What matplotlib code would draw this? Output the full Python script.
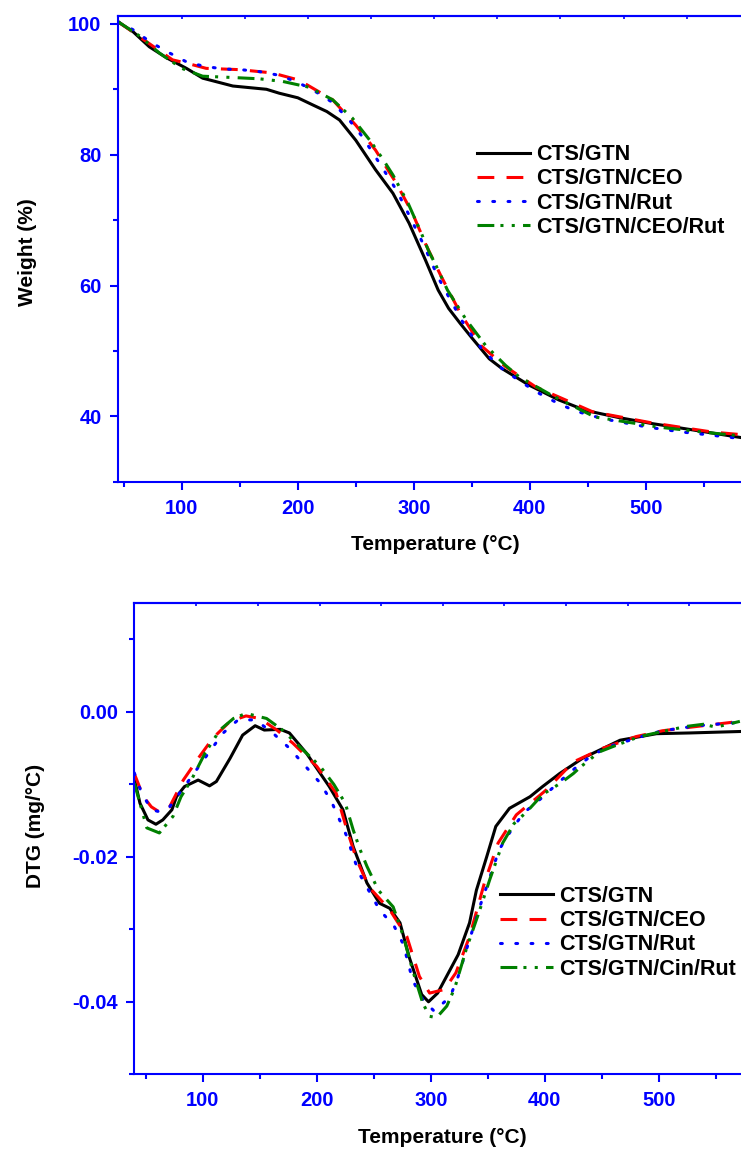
#!/usr/bin/env python3

import numpy as np
import matplotlib
matplotlib.use('Agg')
import matplotlib.pyplot as plt


plt.rcParams['font.family'] = ['Liberation Sans', 'DejaVu Sans']
plt.rcParams['font.weight'] = 'bold'
plt.rcParams['axes.unicode_minus'] = False

figname = 'out.png'

# TGA (weight %) curves
tga_gtn_t = [45, 58, 72, 87, 104, 118, 144, 173, 184, 200, 213, 225, 236, 250, 267, 282, 296, 310, 321, 330,
             340, 350, 365, 376, 399, 425, 448, 477, 505, 534, 582]
tga_gtn_w = [100.3, 98.8, 96.5, 94.8, 93.2, 91.7, 90.5, 90.0, 89.4, 88.7, 87.6, 86.6, 85.3, 82.2, 77.7, 74.1,
             69.5, 63.9, 59.3, 56.5, 54.2, 52.0, 48.8, 47.3, 44.8, 42.5, 40.9, 39.8, 38.9, 38.1, 36.75]

tga_ceo_t = [45, 67, 92, 104, 121, 150, 178, 201, 230, 250, 267, 285, 299, 310, 323, 340, 358, 379, 405, 454,
             505, 557, 582]
tga_ceo_w = [100.35, 97.6, 94.5, 94.0, 93.2, 93.0, 92.5, 91.4, 88.4, 84.5, 80.7, 75.6, 71.0, 66.4, 61.6, 55.8,
             50.8, 47.6, 44.5, 40.7, 39.0, 37.6, 37.2]

tga_rut_t = [45, 58, 74, 90, 105, 120, 136, 151, 167, 182, 197, 213, 229, 243, 255, 265, 275, 285, 293, 308,
             315, 322, 330, 345, 360, 376, 392, 407, 423, 438, 454, 470, 485, 500, 515, 531, 547, 562, 582]
tga_rut_w = [100.3, 99.1, 97.1, 95.5, 94.1, 93.5, 93.1, 93.0, 92.7, 92.2, 91.3, 89.9, 88.1, 85.6, 82.9, 80.2,
             77.4, 74.6, 71.8, 66.4, 63.6, 60.9, 58.3, 53.5, 50.0, 47.3, 45.3, 43.6, 42.1, 40.9, 40.05, 39.4,
             38.9, 38.4, 38.0, 37.6, 37.3, 37.0, 36.6]

tga_mix_t = [45, 64, 81, 100, 118, 144, 167, 187, 210, 230, 247, 263, 273, 282, 295, 306, 313, 319, 329, 345,
             362, 379, 391, 419, 456, 511, 554, 582]
tga_mix_w = [100.35, 98.1, 95.5, 93.2, 92.0, 91.8, 91.6, 91.2, 90.3, 88.4, 85.6, 82.0, 79.4, 76.9, 72.6, 68.2,
             65.2, 63.1, 59.3, 54.8, 50.8, 47.8, 46.0, 43.2, 39.9, 38.35, 37.5, 37.0]

# DTG curves
dtg_gtn_t = [40, 45, 52, 59, 65, 73, 77, 84, 96, 106, 112, 124, 135, 146, 154, 168, 176, 191, 211, 223, 232,
             244, 255, 264, 273, 281, 292, 298, 306, 324, 334, 340, 349, 357, 369, 387, 398, 413, 433, 466, 498,
             527, 571]
dtg_gtn_d = [-0.0092, -0.0126, -0.0149, -0.0155, -0.0149, -0.0135, -0.0117, -0.0103, -0.0094, -0.0102, -0.0096,
             -0.0064, -0.0032, -0.0019, -0.0025, -0.0024, -0.0029, -0.0057, -0.0103, -0.0135, -0.0186, -0.0236,
             -0.0264, -0.0271, -0.0291, -0.0338, -0.0390, -0.0400, -0.0388, -0.0335, -0.0291, -0.0246, -0.0200,
             -0.0158, -0.0133, -0.0117, -0.0103, -0.0085, -0.0064, -0.0039, -0.0030, -0.0029, -0.0027]

dtg_ceo_t = [40, 48, 55, 62, 71, 83, 97, 109, 124, 138, 150, 165, 179, 200, 217, 226, 235, 246, 264, 279, 290,
             299, 312, 322, 334, 347, 359, 375, 401, 425, 451, 480, 503, 528, 555, 571]
dtg_ceo_d = [-0.0085, -0.0117, -0.0131, -0.0138, -0.0131, -0.0094, -0.0062, -0.0036, -0.0013, -0.00055, -0.0009,
             -0.0025, -0.0043, -0.0075, -0.0112, -0.0160, -0.0204, -0.0242, -0.0273, -0.0310, -0.0365, -0.0388,
             -0.0383, -0.0360, -0.0310, -0.0236, -0.0181, -0.0142, -0.0108, -0.0069, -0.0050, -0.0034, -0.0026,
             -0.0021, -0.0016, -0.0013]

dtg_rut_t = [40, 46, 55, 63, 71, 83, 105, 118, 131, 146, 160, 176, 189, 203, 213, 220, 227, 232, 238, 255, 268,
             276, 284, 293, 303, 317, 324, 334, 344, 349, 360, 369, 381, 397, 413, 427, 442, 458, 489, 503, 534,
             566, 571]
dtg_rut_d = [-0.0084, -0.0110, -0.0135, -0.0138, -0.0131, -0.0105, -0.0057, -0.0029, -0.0011, -0.0011, -0.0027,
             -0.0050, -0.0073, -0.0098, -0.0124, -0.0149, -0.0174, -0.0200, -0.0225, -0.0273, -0.0296, -0.0321,
             -0.0370, -0.0397, -0.0413, -0.0393, -0.0365, -0.0314, -0.0264, -0.0241, -0.0190, -0.0167, -0.0140,
             -0.0119, -0.0096, -0.0077, -0.0059, -0.0047, -0.0032, -0.0026, -0.0019, -0.0015, -0.0014]

dtg_mix_t = [40, 45, 51, 62, 74, 81, 90, 102, 115, 127, 138, 156, 170, 185, 203, 215, 225, 232, 238, 244, 254,
             267, 276, 284, 293, 299, 305, 314, 321, 331, 343, 352, 363, 373, 384, 398, 414, 425, 432, 448, 461,
             483, 506, 524, 539, 550, 571]
dtg_mix_d = [-0.0098, -0.0126, -0.0160, -0.0167, -0.0144, -0.0117, -0.0094, -0.0057, -0.0025, -0.0009, -0.0002,
             -0.0009, -0.0025, -0.0048, -0.0075, -0.0100, -0.0126, -0.0163, -0.0190, -0.0213, -0.0246, -0.0269,
             -0.0310, -0.0356, -0.0402, -0.0420, -0.0422, -0.0406, -0.0381, -0.0328, -0.0273, -0.0230, -0.0181,
             -0.0154, -0.0138, -0.0114, -0.0098, -0.0085, -0.0075, -0.0055, -0.0047, -0.0034, -0.0026, -0.0020,
             -0.0017, -0.0021, -0.0013]

tga_labels = ['CTS/GTN', 'CTS/GTN/CEO', 'CTS/GTN/Rut', 'CTS/GTN/CEO/Rut']
dtg_labels = ['CTS/GTN', 'CTS/GTN/CEO', 'CTS/GTN/Rut', 'CTS/GTN/Cin/Rut']

AXIS_BLUE = '#0000ff'
LW = 2.2

# (color, dashes, capstyle) for each series
STYLES = [
    ('black', None, 'butt'),
    ('#ff0000', (5.5, 4.0), 'butt'),
    ('#0000ff', (0.6, 4.4), 'round'),
    ('#008000', (5.5, 2.0, 1.0, 2.7, 1.0, 2.7), 'butt'),
]


def draw_curves(ax, curves, labels):
    for (x, y), label, (color, dashes, cap) in zip(curves, labels, STYLES):
        line, = ax.plot(x, y, color=color, lw=LW, label=label, solid_joinstyle='round')
        if dashes is not None:
            line.set_dashes(dashes)
            line.set_dash_capstyle(cap)


def style_axes(ax, top_tick_start, top_tick_step):
    ax.spines['right'].set_visible(False)
    for side in ('left', 'bottom', 'top'):
        ax.spines[side].set_color(AXIS_BLUE)
        ax.spines[side].set_linewidth(1.5)

    ax.tick_params(which='both', colors=AXIS_BLUE, width=1.5, direction='out')
    ax.tick_params(which='major', length=5.8, labelsize=14.5)
    ax.tick_params(axis='y', which='major', pad=6)
    ax.tick_params(axis='x', which='major', pad=6.5)
    ax.tick_params(which='minor', length=3.6)
    for lab in ax.get_xticklabels() + ax.get_yticklabels():
        lab.set_fontweight('bold')

    # small inward ticks along the top spine
    sec = ax.secondary_xaxis('top')
    sec.set_xticks(np.arange(top_tick_start, ax.get_xlim()[1], top_tick_step))
    sec.set_xticklabels([])
    sec.tick_params(direction='in', length=2.2, width=1.2, colors=AXIS_BLUE)
    sec.spines['top'].set_color(AXIS_BLUE)
    sec.spines['top'].set_linewidth(1.5)


def add_legend(ax, anchor):
    ax.legend(loc='upper left', bbox_to_anchor=anchor, frameon=False, prop={'size': 15.5, 'weight': 'bold'},
              handlelength=2.46, handletextpad=0.28, labelspacing=0.15, borderpad=0, borderaxespad=0)


def create_plot():
    fig = plt.figure(figsize=(7.41, 11.53), dpi=100)

    # weight curves
    ax1 = fig.add_axes([0.1592, 0.5822, 0.8408, 0.4039])
    draw_curves(ax1, [(tga_gtn_t, tga_gtn_w), (tga_ceo_t, tga_ceo_w), (tga_rut_t, tga_rut_w),
                      (tga_mix_t, tga_mix_w)], tga_labels)
    ax1.set_xlim(45, 582)
    ax1.set_ylim(30, 101.2)
    ax1.set_xticks(np.arange(100, 600, 100))
    ax1.set_xticks(np.arange(50, 600, 50), minor=True)
    ax1.set_yticks(np.arange(40, 101, 20))
    ax1.set_yticks(np.arange(30, 101, 10), minor=True)
    style_axes(ax1, 100, 54.4)
    ax1.set_xlabel('Temperature (°C)', fontsize=15, fontweight='bold')
    ax1.set_ylabel('Weight (%)', fontsize=15, fontweight='bold')
    ax1.xaxis.set_label_coords(0.509, -0.115)
    ax1.yaxis.set_label_coords(-0.13, 0.493)
    add_legend(ax1, (0.576, 0.725))

    # DTG curves
    ax2 = fig.add_axes([0.1812, 0.0683, 0.8188, 0.4085])
    draw_curves(ax2, [(dtg_gtn_t, dtg_gtn_d), (dtg_ceo_t, dtg_ceo_d), (dtg_rut_t, dtg_rut_d),
                      (dtg_mix_t, dtg_mix_d)], dtg_labels)
    ax2.set_xlim(40, 572)
    ax2.set_ylim(-0.05, 0.015)
    ax2.set_xticks(np.arange(100, 600, 100))
    ax2.set_xticks(np.arange(50, 600, 50), minor=True)
    ax2.set_yticks([-0.04, -0.02, 0.0])
    ax2.set_yticks([-0.05, -0.03, -0.01, 0.01], minor=True)
    ax2.yaxis.set_major_formatter(plt.FormatStrFormatter('%.2f'))
    style_axes(ax2, 94.5, 54.0)
    ax2.set_xlabel('Temperature (°C)', fontsize=15, fontweight='bold')
    ax2.set_ylabel('DTG (mg/°C)', fontsize=15, fontweight='bold')
    ax2.xaxis.set_label_coords(0.507, -0.115)
    ax2.yaxis.set_label_coords(-0.147, 0.527)
    add_legend(ax2, (0.603, 0.400))

    fig.savefig(figname, dpi=100)


def main():
    create_plot()


if __name__ == '__main__':
    main()
